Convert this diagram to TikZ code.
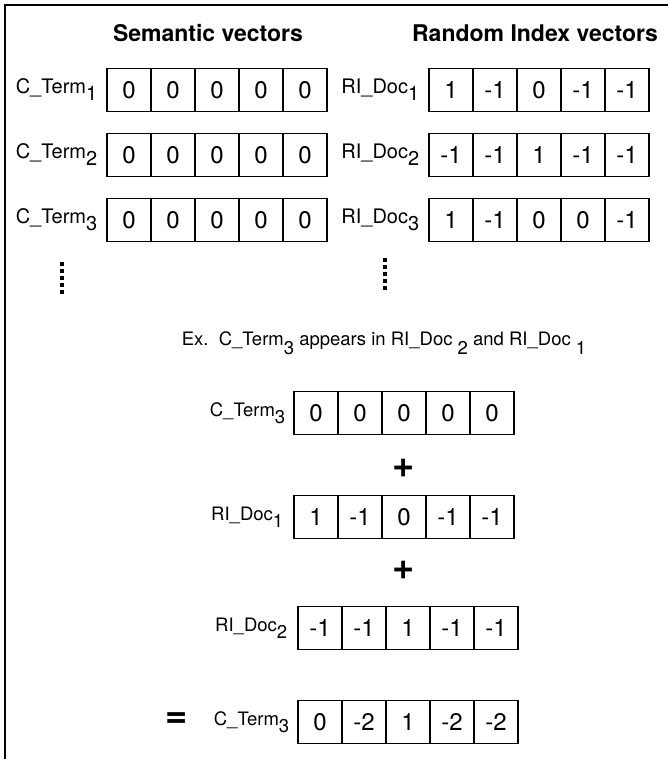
\documentclass[tikz,border=0pt]{standalone}
\usepackage{fontspec}
\setmainfont{TeX Gyre Heros}
\usetikzlibrary{positioning}
\newcommand{\lowsub}[2][0.35em]{\raisebox{-#1}{#2}}

\begin{document}
\begin{tikzpicture}[x=1pt, y=-1pt, node distance=44pt,
	cell/.style = {draw, line width=1.2pt, minimum width=44pt, minimum height=43pt, inner sep=0pt, font=\fontsize{24}{26}\selectfont},
	lab/.style = {inner sep=0pt, font=\fontsize{20}{22}\selectfont},
	smalllab/.style = {inner sep=0pt, font=\fontsize{18.5}{20}\selectfont},
	heading/.style = {font=\fontsize{23}{26}\selectfont\bfseries},
	op/.style = {inner sep=0pt, font=\fontsize{38}{38}\selectfont\bfseries},
	vdots/.style = {line width=4pt, dash pattern=on 4pt off 3pt}]
			\useasboundingbox (0,0) rectangle (668,759);
			\draw[line width=2pt] (5,759) -- (5,5) -- (668,5);
			
			\node[heading] (sem) at (208,33) {Semantic vectors};
			\node[heading] (ri) at (535,33) {Random Index vectors};
			
			% semantic vectors, all zero
			\node[cell] (s11) at (129,90) {0};
			\node[cell, right of=s11] (s12) {0};
			\node[cell, right of=s12] (s13) {0};
			\node[cell, right of=s13] (s14) {0};
			\node[cell, right of=s14] (s15) {0};
			\node[lab, left=9pt of s11] (ls1) {C\_Term\lowsub{1}};
			\node[cell] (s21) at (129,155) {0};
			\node[cell, right of=s21] (s22) {0};
			\node[cell, right of=s22] (s23) {0};
			\node[cell, right of=s23] (s24) {0};
			\node[cell, right of=s24] (s25) {0};
			\node[lab, left=9pt of s21] (ls2) {C\_Term\lowsub{2}};
			\node[cell] (s31) at (129,220) {0};
			\node[cell, right of=s31] (s32) {0};
			\node[cell, right of=s32] (s33) {0};
			\node[cell, right of=s33] (s34) {0};
			\node[cell, right of=s34] (s35) {0};
			\node[lab, left=9pt of s31] (ls3) {C\_Term\lowsub{3}};
			\draw[vdots] (62,262) -- (62,296);
			
			% random index vectors
			\node[cell] (r11) at (451,90) {1};
			\node[cell, right of=r11] (r12) {-1};
			\node[cell, right of=r12] (r13) {0};
			\node[cell, right of=r13] (r14) {-1};
			\node[cell, right of=r14] (r15) {-1};
			\node[lab, left=9pt of r11] (lr1) {RI\_Doc\lowsub{1}};
			\node[cell] (r21) at (451,155) {-1};
			\node[cell, right of=r21] (r22) {-1};
			\node[cell, right of=r22] (r23) {1};
			\node[cell, right of=r23] (r24) {-1};
			\node[cell, right of=r24] (r25) {-1};
			\node[lab, left=9pt of r21] (lr2) {RI\_Doc\lowsub{2}};
			\node[cell] (r31) at (451,220) {1};
			\node[cell, right of=r31] (r32) {-1};
			\node[cell, right of=r32] (r33) {0};
			\node[cell, right of=r33] (r34) {0};
			\node[cell, right of=r34] (r35) {-1};
			\node[lab, left=9pt of r31] (lr3) {RI\_Doc\lowsub{3}};
			\draw[vdots] (385,258) -- (385,292);
			
			\node[smalllab] (ex) at (384,343) {Ex.\ \ C\_Term\lowsub[0.5em]{3} appears in RI\_Doc \lowsub[0.5em]{2} and RI\_Doc \lowsub[0.5em]{1}};
			
			% the sum
			\node[cell] (c1) at (316,413) {0};
			\node[cell, right of=c1] (c2) {0};
			\node[cell, right of=c2] (c3) {0};
			\node[cell, right of=c3] (c4) {0};
			\node[cell, right of=c4] (c5) {0};
			\node[smalllab, left=8pt of c1] (lc) {C\_Term\lowsub[0.4em]{3}};
			\node[op] (plus1) at (404,468) {+};
			\node[cell] (d1) at (316,517) {1};
			\node[cell, right of=d1] (d2) {-1};
			\node[cell, right of=d2] (d3) {0};
			\node[cell, right of=d3] (d4) {-1};
			\node[cell, right of=d4] (d5) {-1};
			\node[smalllab, left=10pt of d1] (ld) {RI\_Doc\lowsub[0.4em]{1}};
			\node[op] (plus2) at (404,570) {+};
			\node[cell] (e1) at (320,628) {-1};
			\node[cell, right of=e1] (e2) {-1};
			\node[cell, right of=e2] (e3) {1};
			\node[cell, right of=e3] (e4) {-1};
			\node[cell, right of=e4] (e5) {-1};
			\node[smalllab, left=10pt of e1] (le) {RI\_Doc\lowsub[0.4em]{2}};
			\node[cell] (f1) at (320,722) {0};
			\node[cell, right of=f1] (f2) {-2};
			\node[cell, right of=f2] (f3) {1};
			\node[cell, right of=f3] (f4) {-2};
			\node[cell, right of=f4] (f5) {-2};
			\node[smalllab, left=8pt of f1] (lf) {C\_Term\lowsub[0.4em]{3}};
			\node[op] (eq) at (177,720) {=};
			
\end{tikzpicture}
\end{document}
